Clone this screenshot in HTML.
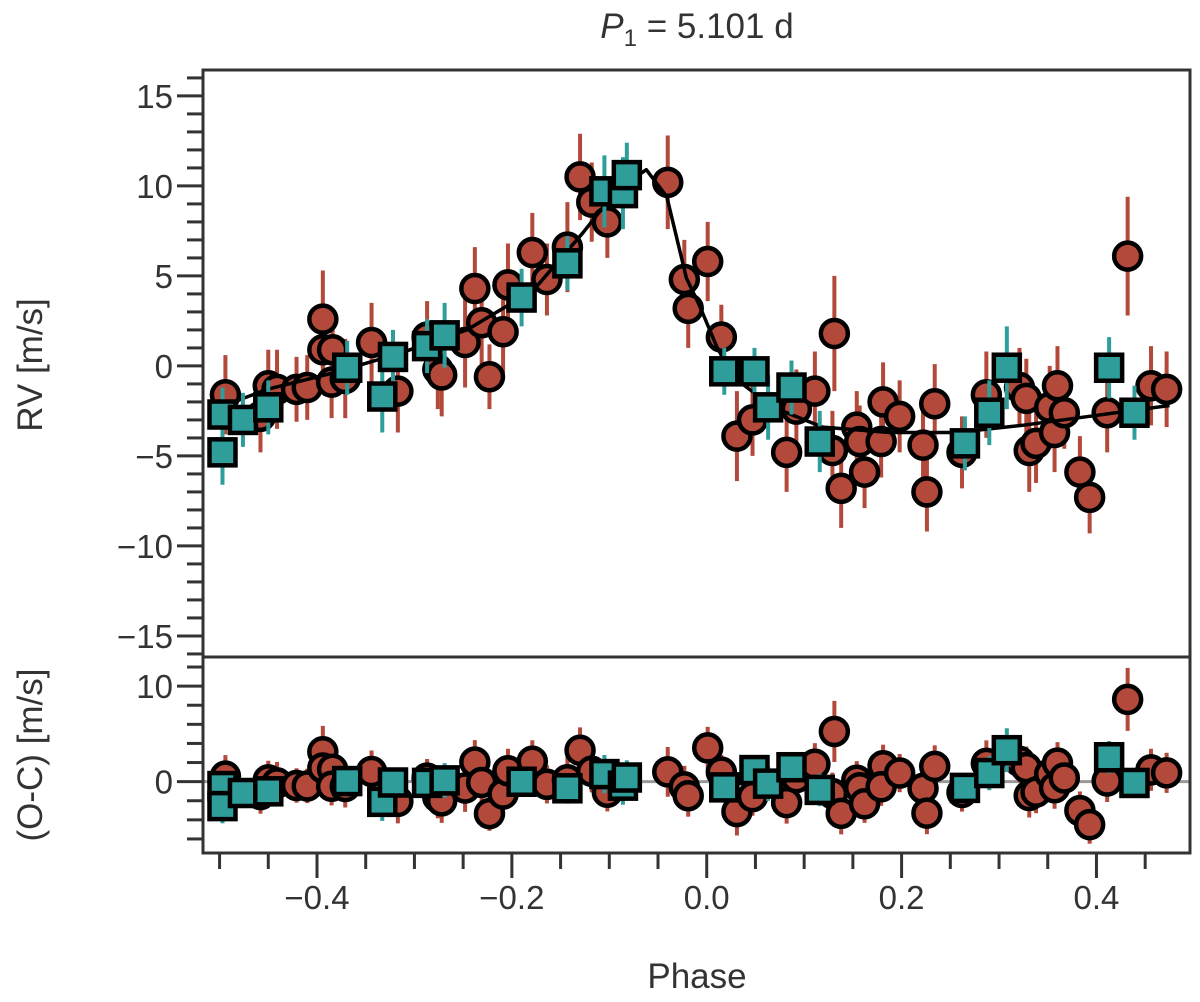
<!DOCTYPE html>
<html><head><meta charset="utf-8"><style>
html,body{margin:0;padding:0;background:#fff;}
svg{display:block;font-family:"Liberation Sans","DejaVu Sans",sans-serif;}
</style></head><body>
<svg id="chart" width="1200" height="1002" viewBox="0 0 1200 1002" xmlns="http://www.w3.org/2000/svg">
<text x="697" y="38" text-anchor="middle" font-size="35" fill="#333"><tspan font-style="italic">P</tspan><tspan font-size="24" dy="8">1</tspan><tspan dy="-8"> = 5.101 d</tspan></text>
<text transform="translate(42,365) rotate(-90)" text-anchor="middle" font-size="35" fill="#333">RV [m/s]</text>
<text transform="translate(42,755) rotate(-90)" text-anchor="middle" font-size="35" fill="#333">(O-C) [m/s]</text>
<text x="697" y="988" text-anchor="middle" font-size="35" fill="#333">Phase</text>
<g id="g"></g>
</svg>
<script>
const phaseRed=[-0.494,-0.458,-0.450,-0.441,-0.421,-0.410,-0.394,-0.394,-0.384,-0.385,-0.371,-0.344,-0.317,-0.287,-0.276,-0.272,-0.248,-0.238,-0.231,-0.223,-0.209,-0.204,-0.179,-0.164,-0.143,-0.130,-0.118,-0.102,-0.040,-0.023,-0.019,0.001,0.015,0.031,0.047,0.082,0.092,0.111,0.131,0.129,0.138,0.154,0.157,0.162,0.181,0.179,0.198,0.222,0.226,0.234,0.262,0.287,0.321,0.328,0.331,0.338,0.352,0.360,0.357,0.367,0.383,0.393,0.411,0.432,0.456,0.472];
const rvRed=[-1.6,-2.8,-1.1,-1.3,-1.3,-1.2,2.6,0.9,0.9,-0.9,-0.7,1.3,-1.4,1.6,-0.2,-0.5,1.3,4.3,2.4,-0.6,1.9,4.5,6.3,4.8,6.6,10.5,9.1,8.0,10.2,4.8,3.2,5.8,1.6,-3.9,-3.0,-4.8,-2.4,-1.4,1.8,-4.7,-6.8,-3.4,-4.2,-5.9,-2.0,-4.2,-2.8,-4.4,-7.0,-2.1,-4.8,-1.6,-1.2,-1.8,-4.7,-4.3,-2.3,-1.1,-3.7,-2.6,-5.9,-7.3,-2.6,6.1,-1.1,-1.3];
const errRed=[2.2,2.0,2.0,2.2,1.8,1.8,2.7,2.0,2.2,2.0,2.2,2.2,2.3,2.0,2.2,2.3,2.5,2.3,2.3,1.8,2.3,2.3,2.2,2.0,2.5,2.4,2.2,2.0,2.6,2.2,2.2,2.2,1.8,2.5,2.0,2.2,2.2,2.2,3.2,2.2,2.2,2.0,2.0,2.0,2.2,2.0,2.0,2.0,2.2,2.2,2.0,2.4,2.2,2.2,2.3,2.2,2.3,2.2,2.2,2.0,2.0,2.0,2.2,3.3,2.2,2.1];
const phaseTeal=[-0.497,-0.497,-0.476,-0.450,-0.369,-0.333,-0.322,-0.287,-0.269,-0.190,-0.143,-0.105,-0.086,-0.082,0.018,0.049,0.063,0.087,0.116,0.265,0.290,0.308,0.413,0.439];
const rvTeal=[-2.7,-4.8,-3.0,-2.3,-0.1,-1.7,0.5,1.1,1.7,3.8,5.7,9.7,9.6,10.6,-0.3,-0.3,-2.3,-1.2,-4.2,-4.3,-2.6,-0.1,-0.1,-2.6];
const errTeal=[1.5,1.8,1.5,1.5,1.5,2.0,1.5,1.5,1.8,1.6,1.5,2.0,2.0,1.8,1.3,1.3,1.8,1.5,1.7,1.5,1.8,2.3,1.7,1.5];
const modelPhase=[-0.5,-0.451,-0.384,-0.315,-0.246,-0.178,-0.127,-0.092,-0.062,-0.041,-0.021,-0.007,0.010,0.027,0.068,0.119,0.188,0.256,0.324,0.393,0.475];
const modelRv=[-2.3,-1.3,-0.4,0.7,2.0,4.2,7.4,9.8,10.9,9.4,4.9,3.3,1.1,-0.6,-2.3,-3.4,-3.7,-3.7,-3.3,-2.8,-2.2];
const yTicksTop=[15,10,5,0,-5,-10,-15];
const yTicksBot=[10,0];
const xTicks=[-0.4,-0.2,0.0,0.2,0.4];

const NS='http://www.w3.org/2000/svg';
const g=document.getElementById('g');
const L=203,R=1190,T1=70,B1=657,T2=657,B2=853;
const X0=-0.517,X1=0.496;
const sx=p=>L+(p-X0)/(X1-X0)*(R-L);
const yT0=16.44,yT1=-16.17,yB0=13.05,yB1=-7.47;
const syT=v=>T1+(yT0-v)/(yT0-yT1)*(B1-T1);
const syB=v=>T2+(yB0-v)/(yB0-yB1)*(B2-T2);
function mk(tag,attrs,parent){const e=document.createElementNS(NS,tag);for(const k in attrs)e.setAttribute(k,attrs[k]);(parent||g).appendChild(e);return e;}
function model(p){for(let i=0;i<modelPhase.length-1;i++){if(p<=modelPhase[i+1]){const t=(p-modelPhase[i])/(modelPhase[i+1]-modelPhase[i]);return modelRv[i]+t*(modelRv[i+1]-modelRv[i]);}}return modelRv[modelRv.length-1];}
const C='#333';
const defs=mk('defs',{});
const c1=mk('clipPath',{id:'c1'},defs);mk('rect',{x:L,y:T1,width:R-L,height:B1-T1},c1);
const c2=mk('clipPath',{id:'c2'},defs);mk('rect',{x:L,y:T2,width:R-L,height:B2-T2},c2);
const p1=mk('g',{'clip-path':'url(#c1)'});


const p2=mk('g',{'clip-path':'url(#c2)'});


const zl=mk('line',{x1:L,x2:R,y1:syB(0),y2:syB(0),stroke:'#999','stroke-width':3},p2);


function drawSet(ph,rv,er,col,shape,name){
  for(let i=0;i<ph.length;i++){
    const x=sx(ph[i]);
    const res=rv[i]-model(ph[i]);
    [[p1,syT,rv[i]],[p2,syB,res]].forEach(([par,sy,v])=>{
      const eb=mk('line',{x1:x,x2:x,y1:sy(v-er[i]),y2:sy(v+er[i]),stroke:col,'stroke-width':4},par);
      
      
    });
  }
  for(let i=0;i<ph.length;i++){
    const x=sx(ph[i]);
    const res=rv[i]-model(ph[i]);
    [[p1,syT,rv[i]],[p2,syB,res]].forEach(([par,sy,v])=>{
      let m;
      if(shape==='c') m=mk('circle',{cx:x,cy:sy(v),r:13.5,fill:col,stroke:'#000','stroke-width':4.5},par);
      else m=mk('rect',{x:x-13,y:sy(v)-13,width:26,height:26,fill:col,stroke:'#000','stroke-width':4.5},par);
      
      
    });
  }
}
drawSet(phaseRed,rvRed,errRed,'#b3493a','c','harps-red');
let d='';
for(let i=0;i<modelPhase.length;i++){d+=(i?'L':'M')+sx(modelPhase[i]).toFixed(1)+' '+syT(modelRv[i]).toFixed(1);}
const mc=mk('path',{d:d,fill:'none',stroke:'#000','stroke-width':3.5,'stroke-linejoin':'round'},p1);


drawSet(phaseTeal,rvTeal,errTeal,'#2f9e9b','s','teal-instrument');
const f1=mk('rect',{x:L,y:T1,width:R-L,height:B1-T1,fill:'none',stroke:C,'stroke-width':3});


const f2=mk('rect',{x:L,y:T2,width:R-L,height:B2-T2,fill:'none',stroke:C,'stroke-width':3});


for(let v=-16;v<=16;v++){const y=syT(v);if(y<T1-1||y>B1+1)continue;const maj=v%5===0;
  const t=mk('line',{x1:L-(maj?26:16),x2:L,y1:y,y2:y,stroke:C,'stroke-width':3});
  
  }
yTicksTop.forEach(v=>{const t=mk('text',{x:L-30,y:syT(v)+12,'text-anchor':'end','font-size':33,fill:C});t.textContent=(v<0?'\u2212':'')+Math.abs(v);
  
  });
for(let v=-6;v<=12;v+=2){const y=syB(v);const maj=v%10===0;
  const t=mk('line',{x1:L-(maj?26:16),x2:L,y1:y,y2:y,stroke:C,'stroke-width':3});
  
  }
yTicksBot.forEach(v=>{const t=mk('text',{x:L-30,y:syB(v)+12,'text-anchor':'end','font-size':33,fill:C});t.textContent=String(v);
  
  });
for(let k=-10;k<=9;k++){const v=k*0.05;const x=sx(v);if(x<L-1||x>R+1)continue;const maj=k%4===0;
  const t=mk('line',{x1:x,x2:x,y1:B2,y2:B2+(maj?25:16),stroke:C,'stroke-width':3});
  
  }
xTicks.forEach(v=>{const t=mk('text',{x:sx(v),y:B2+56,'text-anchor':'middle','font-size':33,fill:C});t.textContent=(v<0?'\u2212':'')+Math.abs(v).toFixed(1);
  
  });
</script>
</body></html>
